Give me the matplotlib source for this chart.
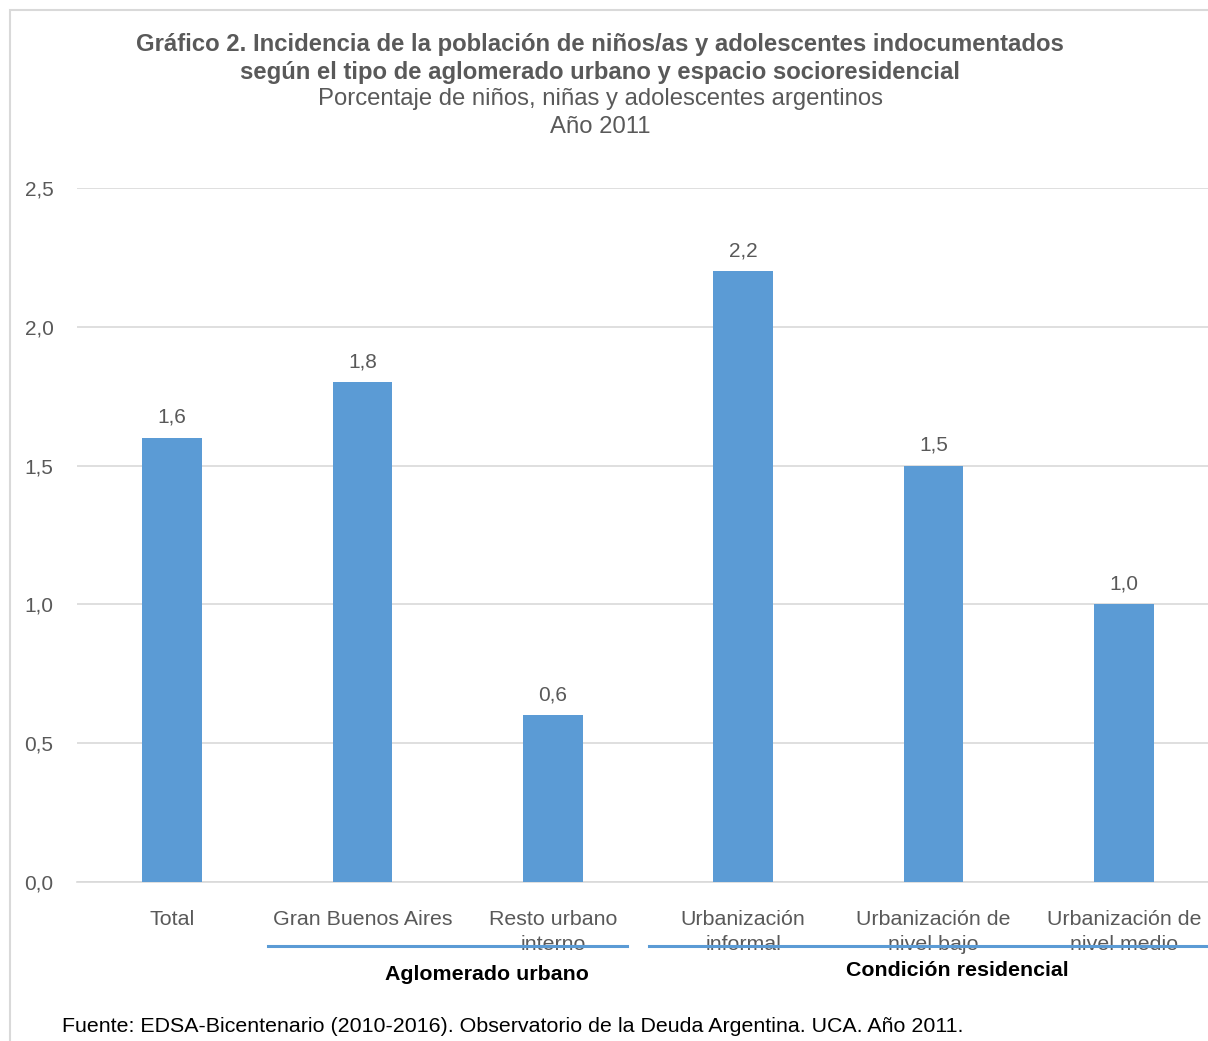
import matplotlib.pyplot as plt
from matplotlib.patches import Rectangle
from matplotlib.lines import Line2D
from matplotlib.ticker import FuncFormatter, MultipleLocator

categories = ['Total', 'Gran Buenos Aires', 'Resto urbano\ninterno',
              'Urbanización\ninformal', 'Urbanización de\nnivel bajo',
              'Urbanización de\nnivel medio']
values = [1.6, 1.8, 0.6, 2.2, 1.5, 1.0]
groups = ['Aglomerado urbano', 'Condición residencial']

plt.rcParams['font.family'] = ['Liberation Sans', 'DejaVu Sans']
BAR = '#5B9BD5'
GRAY = '#595959'

W, H = 1208, 1041
fig = plt.figure(figsize=(W / 100, H / 100), dpi=100)

def fx(px):
    return px / W

def fy(py):
    return 1 - py / H

# outer frame of the chart area
fig.patches.append(Rectangle((fx(10), fy(1060)), fx(1250), 1050 / H,
                             transform=fig.transFigure, fill=False,
                             edgecolor='#D9D9D9', linewidth=1.5))

ax = fig.add_axes([fx(77), fy(882), fx(1219 - 77), (882 - 188) / H])
x = range(len(values))
bars = ax.bar(x, values, width=0.315, color=BAR, zorder=3)
for i, v in zip(x, values):
    ax.annotate(f'{v:.1f}'.replace('.', ','), (i, v), xytext=(0, 8),
                textcoords='offset points', ha='center', va='bottom',
                fontsize=15, color=GRAY)

ax.set_xlim(-0.5, len(values) - 0.5)
ax.set_ylim(0, 2.5)
ax.yaxis.set_major_locator(MultipleLocator(0.5))
ax.yaxis.set_major_formatter(FuncFormatter(lambda v, p: f'{v:.1f}'.replace('.', ',')))
ax.grid(axis='y', color='#D9D9D9', linewidth=1.2, zorder=0)
for s in ['top', 'right', 'left']:
    ax.spines[s].set_visible(False)
ax.spines['bottom'].set_color('#D9D9D9')
ax.spines['bottom'].set_linewidth(1.2)
ax.set_xticks(list(x))
ax.set_xticklabels(categories, fontsize=15.4, color=GRAY, linespacing=1.39)
ax.tick_params(axis='x', length=0, pad=20)
ax.tick_params(axis='y', length=0, pad=17, labelsize=15, labelcolor=GRAY)

# group brackets
fig.add_artist(Line2D([fx(268), fx(627)], [fy(946), fy(946)], color=BAR, linewidth=2.2))
fig.add_artist(Line2D([fx(649), fx(1208)], [fy(946), fy(946)], color=BAR, linewidth=2.2))
fig.text(fx(487), fy(974), groups[0], ha='center', va='center',
         fontsize=15.4, fontweight='bold', color='black')
fig.text(fx(957), fy(970), groups[1], ha='center', va='center',
         fontsize=15.4, fontweight='bold', color='black')

# titles
fig.text(fx(600), fy(44), 'Gráfico 2. Incidencia de la población de niños/as y adolescentes indocumentados',
         ha='center', va='center', fontsize=17.2, fontweight='bold', color=GRAY)
fig.text(fx(600), fy(72), 'según el tipo de aglomerado urbano y espacio socioresidencial',
         ha='center', va='center', fontsize=17.2, fontweight='bold', color=GRAY)
fig.text(fx(600), fy(99), 'Porcentaje de niños, niñas y adolescentes argentinos',
         ha='center', va='center', fontsize=17.2, color=GRAY)
fig.text(fx(600), fy(127), 'Año 2011', ha='center', va='center', fontsize=17.2, color=GRAY)

fig.text(fx(62), fy(1027), 'Fuente: EDSA-Bicentenario (2010-2016). Observatorio de la Deuda Argentina. UCA. Año 2011.',
         ha='left', va='center', fontsize=15.4, color='black')

fig.savefig('out.png', dpi=100)
